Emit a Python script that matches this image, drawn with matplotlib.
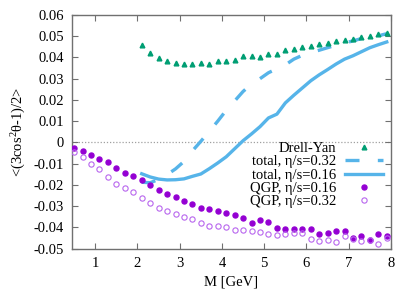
import matplotlib
matplotlib.use("Agg")
import matplotlib.pyplot as plt
import numpy as np

plt.rcParams['font.family'] = ['Liberation Serif', 'DejaVu Serif']
plt.rcParams['mathtext.fontset'] = 'custom'
plt.rcParams['mathtext.rm'] = 'Liberation Serif'
plt.rcParams['mathtext.it'] = 'Liberation Serif:italic'
plt.rcParams['axes.unicode_minus'] = False

# ---- data ----
m_tot = [2.1, 2.3, 2.5, 2.7, 2.9, 3.1, 3.3, 3.5, 3.7, 3.9, 4.1, 4.3, 4.5, 4.7, 4.9,
         5.1, 5.3, 5.5, 5.7, 5.9, 6.1, 6.3, 6.5, 6.7, 6.9, 7.1, 7.3, 7.5, 7.7, 7.9]
drell_yan = [0.0461, 0.0422, 0.0398, 0.0382, 0.0374, 0.0370, 0.0370, 0.0372, 0.0368, 0.0381,
             0.0384, 0.0390, 0.0406, 0.0407, 0.0404, 0.0418, 0.0416, 0.0434, 0.0440, 0.0448,
             0.0456, 0.0464, 0.0469, 0.0477, 0.0483, 0.0489, 0.0497, 0.0503, 0.0511, 0.0516]
total_032 = [-0.0188, -0.0190, -0.0175, -0.0152, -0.0125, -0.0090, -0.0040, 0.0005, 0.0052, 0.0100,
             0.0151, 0.0195, 0.0240, 0.0275, 0.0300, 0.0328, 0.0347, 0.0365, 0.0392, 0.0410,
             0.0424, 0.0434, 0.0446, 0.0458, 0.0468, 0.0478, 0.0489, 0.0495, 0.0502, 0.0512]
total_016 = [-0.0148, -0.0163, -0.0173, -0.0177, -0.0176, -0.0172, -0.0160, -0.0149, -0.0124, -0.0097,
             -0.0068, -0.0030, 0.0008, 0.0040, 0.0074, 0.0115, 0.0133, 0.0186, 0.0222, 0.0256,
             0.0290, 0.0318, 0.0343, 0.0369, 0.0392, 0.0408, 0.0427, 0.0446, 0.0460, 0.0473]

m_qgp = [0.5, 0.7, 0.9, 1.1, 1.3, 1.5, 1.7, 1.9, 2.1, 2.3, 2.5, 2.7, 2.9, 3.1, 3.3, 3.5, 3.7, 3.9, 4.1,
         4.3, 4.5, 4.7, 4.9, 5.1, 5.3, 5.5, 5.7, 5.9, 6.1, 6.3, 6.5, 6.7, 6.9, 7.1, 7.3, 7.5, 7.7, 7.9]
qgp_016 = [-0.0026, -0.0042, -0.0061, -0.0077, -0.0091, -0.0123, -0.0146, -0.0160, -0.0177, -0.0201,
           -0.0223, -0.0241, -0.0256, -0.0278, -0.0290, -0.0310, -0.0314, -0.0324, -0.0335, -0.0341,
           -0.0358, -0.0382, -0.0366, -0.0376, -0.0404, -0.0406, -0.0410, -0.0410, -0.0410, -0.0431,
           -0.0425, -0.0417, -0.0417, -0.0451, -0.0443, -0.0458, -0.0434, -0.0443]
qgp_032 = [-0.0047, -0.0069, -0.0102, -0.0127, -0.0165, -0.0195, -0.0215, -0.0233, -0.0264, -0.0286,
           -0.0307, -0.0321, -0.0338, -0.0350, -0.0361, -0.0381, -0.0393, -0.0396, -0.0399, -0.0413,
           -0.0411, -0.0417, -0.0422, -0.0432, -0.0437, -0.0434, -0.0429, -0.0427, -0.0453, -0.0464,
           -0.0459, -0.0468, -0.0439, -0.0456, -0.0465, -0.0459, -0.0478, -0.0450]

x_ticks = [1, 2, 3, 4, 5, 6, 7, 8]
y_ticks = [-0.05, -0.04, -0.03, -0.02, -0.01, 0.0, 0.01, 0.02, 0.03, 0.04, 0.05, 0.06]
y_tick_labels = ['-0.05', '-0.04', '-0.03', '-0.02', '-0.01', '0', '0.01', '0.02', '0.03', '0.04', '0.05', '0.06']

# ---- styles ----
green = '#009e73'
blue = '#56b4e9'
purple = '#9400d3'
light_purple = '#b866ee'
fs = 10.5

fig = plt.figure(figsize=(4.15, 2.91), dpi=100)
ax = fig.add_axes([72/415, 1 - 248.5/291, (391 - 72)/415, (248.5 - 15)/291])

ax.axhline(0, color='#a0a0a0', lw=0.9, ls=(0, (1, 1.5)), zorder=1)

ax.plot(m_tot, drell_yan, ls='none', marker='^', ms=3.4, color=green, mec=green,
        label='Drell-Yan', zorder=3)
ax.plot(m_tot, total_032, color=blue, lw=2.4, dashes=(4.2, 5.5), solid_capstyle='butt',
        dash_capstyle='butt', label='total, η/s=0.32', zorder=2)
ax.plot(m_tot, total_016, color=blue, lw=2.4, label='total, η/s=0.16', zorder=2)
ax.plot(m_qgp, qgp_016, ls='none', marker='o', ms=3.6, color=purple, mec=purple,
        label='QGP, η/s=0.16', zorder=3)
ax.plot(m_qgp, qgp_032, ls='none', marker='o', ms=3.8, mfc='none', mec=light_purple, mew=0.8,
        label='QGP, η/s=0.32', zorder=3)

ax.set_xlim(0.45, 8)
ax.set_ylim(-0.05, 0.06)
ax.set_xticks(x_ticks)
ax.set_xticklabels([str(t) for t in x_ticks], fontsize=fs)
ax.set_yticks(y_ticks)
ax.set_yticklabels(y_tick_labels, fontsize=fs)
ax.tick_params(direction='in', length=4, width=0.8, color='#707070', top=True, right=True, pad=6)
for s in ax.spines.values():
    s.set_color('#707070')
    s.set_linewidth(1.0)

ax.set_xlabel('M [GeV]', fontsize=fs, labelpad=4)
ax.set_ylabel(r'<(3cos$^{2}$θ-1)/2>', fontsize=fs, labelpad=4)

leg = ax.legend(loc='upper right', bbox_to_anchor=(383/415, 1 - 142/291),
                bbox_transform=fig.transFigure, frameon=False, markerfirst=False,
                fontsize=fs, handlelength=2.6, handletextpad=0.6, labelspacing=0.0,
                borderpad=0, borderaxespad=0, numpoints=1)

fig.savefig('out.png', dpi=100)
